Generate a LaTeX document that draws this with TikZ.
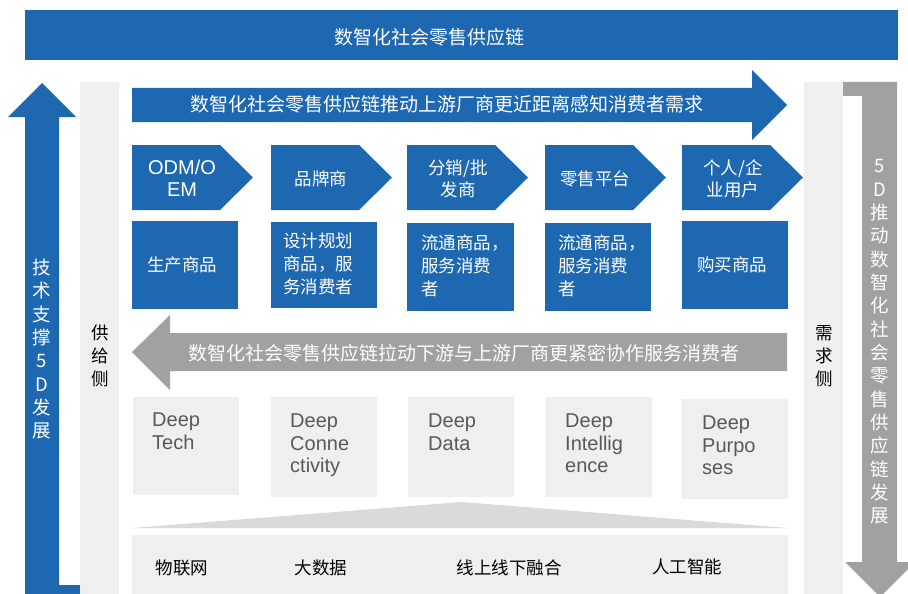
\documentclass[tikz,border=0pt]{standalone}
\usepackage{fontspec}
\setmainfont{Liberation Sans}
\newfontfamily\cjk{Noto Sans CJK SC}
\definecolor{bl}{RGB}{30,104,178}
\definecolor{gr}{RGB}{160,161,161}
\definecolor{lg}{RGB}{239,239,239}
\definecolor{wd}{RGB}{217,218,218}
\definecolor{dtx}{RGB}{89,89,89}
\tikzset{
  wtxt/.style={font=\cjk\fontsize{19}{23}\selectfont, text=white, inner sep=0pt},
  vtxt/.style={font=\cjk\fontsize{18.5}{23.33}\selectfont, text=white, inner sep=0pt, align=center},
  sidetxt/.style={font=\cjk\fontsize{17.5}{23}\selectfont, text=black, inner sep=0pt, align=center},
  chevtxt/.style={font=\cjk\fontsize{17.5}{21.5}\selectfont, text=white, inner sep=0pt, align=center},
  boxtxt/.style={font=\cjk\fontsize{17.5}{23}\selectfont, text=white, inner sep=0pt, align=left},
  deeptxt/.style={font=\fontsize{20}{22.5}\selectfont, text=dtx, inner sep=0pt, align=left, anchor=north west},
  basetxt/.style={font=\cjk\fontsize{17.5}{21}\selectfont, text=black, inner sep=0pt},
  chev/.style={fill=bl},
  bbox/.style={fill=bl},
  gbox/.style={fill=lg}
}
\begin{document}
\begin{tikzpicture}[x=1pt,y=-1pt]
\useasboundingbox (0,0) rectangle (908,594);
% top bar
\fill[bl] (25,10) rectangle (898,60);
\node[wtxt] (top) at (429,37) {数智化社会零售供应链};
% left up arrow
\fill[bl] (25,594) -- (25,117) -- (8,117) -- (42,83) -- (76,117) -- (59,117) -- (59,585) -- (80,585) -- (80,594) -- cycle;
\node[vtxt] (ltxt) at (42,349) {技\\术\\支\\撑\\5\\D\\发\\展};
% right down arrow
\fill[gr] (843,82) -- (897,82) -- (897,562) -- (915,562) -- (880,597) -- (845,562) -- (862,562) -- (862,96) -- (843,96) -- cycle;
\node[vtxt] (rtxt) at (880,342) {5\\D\\推\\动\\数\\智\\化\\社\\会\\零\\售\\供\\应\\链\\发\\展};
% side columns
\fill[lg] (80,82) rectangle (119,594);
\fill[lg] (804,82) rectangle (843,594);
\node[sidetxt] (sup) at (100,356) {供\\给\\侧};
\node[sidetxt] (dem) at (824,356) {需\\求\\侧};
% push arrow
\fill[bl] (132,88) -- (752,88) -- (752,70) -- (787,105) -- (752,140) -- (752,122) -- (132,122) -- cycle;
\node[wtxt] (push) at (447,104) {数智化社会零售供应链推动上游厂商更近距离感知消费者需求};
% chevrons
\foreach \xs in {132,271,407,545,682}{
  \fill[chev] (\xs,145) -- (\xs+88,145) -- (\xs+121,177.5) -- (\xs+88,210) -- (\xs,210) -- cycle;
}
\node[chevtxt, font=\fontsize{20}{21.5}\selectfont] (c1) at (182,178.5) {ODM/O\\EM};
\node[chevtxt] (c2) at (321,179) {品牌商};
\node[chevtxt] (c3) at (458,179) {分销/批\\发商};
\node[chevtxt] (c4) at (595,179) {零售平台};
\node[chevtxt] (c5) at (733,179) {个人/企\\业用户};
% blue boxes
\fill[bbox] (132,221) rectangle (238,309);
\fill[bbox] (271,222) rectangle (377,308);
\fill[bbox] (407,223) rectangle (514,311);
\fill[bbox] (545,223) rectangle (651,311);
\fill[bbox] (682,221) rectangle (788,309);
\node[boxtxt] (b1) at (182,265) {生产商品};
\node[boxtxt, anchor=west] (b2) at (283,264) {设计规划\\商品，服\\务消费者};
\node[boxtxt, anchor=west] (b3) at (421,266) {流通商品，\\服务消费\\者};
\node[boxtxt, anchor=west] (b4) at (558,266) {流通商品，\\服务消费\\者};
\node[boxtxt] (b5) at (732,265) {购买商品};
% pull arrow
\fill[gr] (787,333) -- (170,333) -- (170,315) -- (132,352) -- (170,390) -- (170,371) -- (787,371) -- cycle;
\node[wtxt] (pull) at (464,353) {数智化社会零售供应链拉动下游与上游厂商更紧密协作服务消费者};
% gray boxes
\fill[gbox] (133,397) rectangle (239,495);
\fill[gbox] (271,397) rectangle (377,497);
\fill[gbox] (408,397) rectangle (514,497);
\fill[gbox] (546,397) rectangle (652,497);
\fill[gbox] (682,399) rectangle (788,499);
\node[deeptxt] (d1) at (152,413) {Deep\\Tech};
\node[deeptxt] (d2) at (290,414) {Deep\\Conne\\ctivity};
\node[deeptxt] (d3) at (428,414) {Deep\\Data};
\node[deeptxt] (d4) at (565,414) {Deep\\Intellig\\ence};
\node[deeptxt] (d5) at (702,416) {Deep\\Purpo\\ses};
% wedge
\fill[wd] (132,528) -- (462,502) -- (788,528) -- cycle;
% base band
\fill[lg] (132,535) rectangle (788,594);
\node[basetxt] (t1) at (182,568) {物联网};
\node[basetxt] (t2) at (321,568) {大数据};
\node[basetxt] (t3) at (509,568) {线上线下融合};
\node[basetxt] (t4) at (687,567) {人工智能};
\end{tikzpicture}
\end{document}
